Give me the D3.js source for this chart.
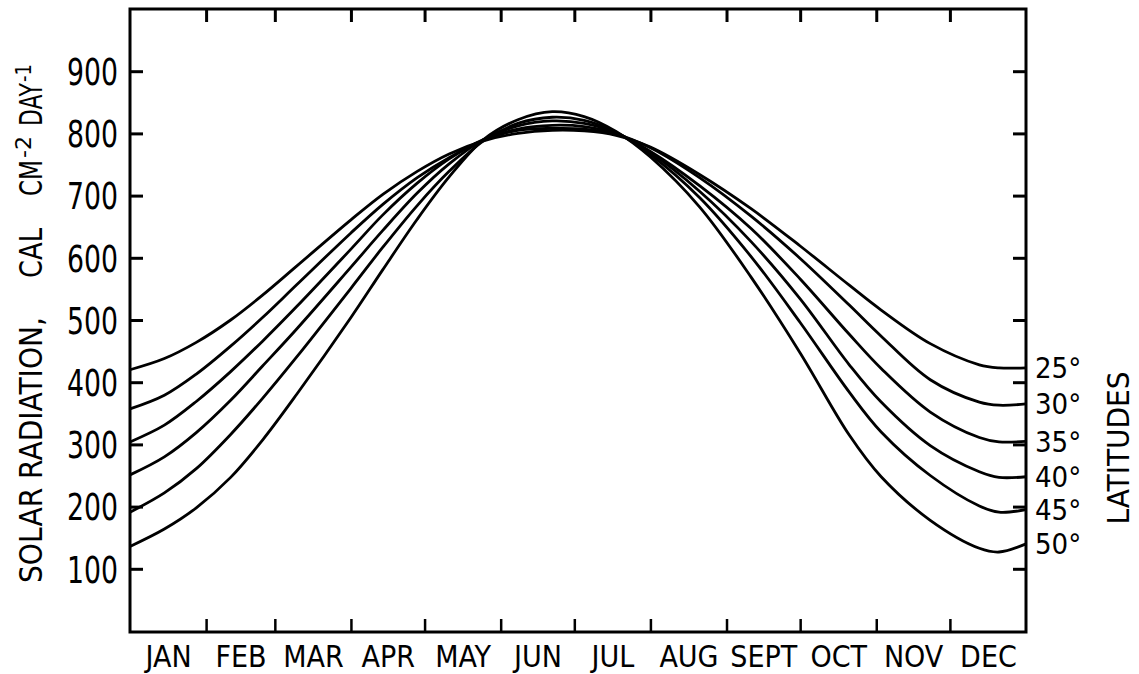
<!DOCTYPE html>
<html lang="en">

<head>
  <meta charset="UTF-8">
  <title>Solar radiation by latitude</title>
  <script src="https://d3js.org/d3.v7.min.js"></script>
  <style>
    body {
      margin: 0;
      background-color: #fff;
    }

    svg text {
      font-family: "Liberation Sans Narrow", "DejaVu Sans Condensed", "Roboto Condensed", sans-serif;
      font-stretch: condensed;
      fill: #000;
    }
  </style>
</head>

<body>
  <svg width="1139" height="674"></svg>
  <script>
    // data (cal cm-2 day-1), day of year on x
    const months = ["JAN", "FEB", "MAR", "APR", "MAY", "JUN", "JUL", "AUG", "SEPT", "OCT", "NOV", "DEC"];
    const monthDays = [31, 28, 31, 30, 31, 30, 31, 31, 30, 31, 30, 31];
    const yTicks = [100, 200, 300, 400, 500, 600, 700, 800, 900];
    const latitudes = ["25°", "30°", "35°", "40°", "45°", "50°"];

    const days = [0, 14, 27, 41, 54, 68, 90, 103, 117, 130, 144, 158, 172, 185, 198, 212, 232, 253, 273, 293, 306, 326, 346, 354, 365];
    const lat25 = [420, 438, 464, 500, 540, 587, 661, 702, 739, 767, 788, 800, 805, 804, 797, 778, 734, 679, 619, 556, 516, 462, 428, 423, 423];
    const lat30 = [357, 379, 413, 458, 504, 557, 640, 686, 729, 761, 789, 805, 808, 807, 799, 777, 729, 667, 599, 524, 474, 404, 368, 363, 365];
    const lat35 = [304, 331, 369, 417, 466, 522, 614, 669, 720, 759, 790, 807, 813, 811, 800, 771, 716, 647, 566, 477, 422, 352, 311, 304, 305];
    const lat40 = [251, 280, 319, 371, 426, 486, 585, 644, 704, 751, 790, 812, 820, 816, 801, 769, 707, 626, 534, 428, 368, 298, 256, 247, 248];
    const lat45 = [191, 222, 261, 316, 374, 441, 551, 617, 684, 739, 788, 816, 826, 821, 802, 766, 697, 602, 496, 384, 320, 250, 201, 191, 195];
    const lat50 = [136, 164, 198, 247, 307, 381, 504, 581, 662, 730, 790, 822, 835, 827, 803, 762, 682, 569, 447, 315, 248, 178, 133, 127, 140];
    const series = [lat25, lat30, lat35, lat40, lat45, lat50];

    const svg = d3.select("svg");
    const plotLeft = 130, plotRight = 1026, plotTop = 9, plotBottom = 632;

    const x = d3.scaleLinear().domain([0, 365]).range([plotLeft, plotRight]);
    const y = d3.scaleLinear().domain([0, 1000]).range([631, plotTop]);

    const monthStart = [0].concat(Array.from(d3.cumsum(monthDays)).slice(0, -1));
    const boundaries = monthStart.slice(1);
    const monthMid = monthStart.map((s, i) => s + monthDays[i] / 2);

    // axes: ticks point inward on all four sides
    svg.append("g")
      .attr("transform", `translate(${plotLeft},0)`)
      .call(d3.axisLeft(y).tickValues(yTicks).tickSizeInner(-13).tickSizeOuter(0).tickPadding(12))
      .call(g => g.select(".domain").remove())
      .call(g => g.selectAll("line").attr("stroke", "#000").attr("stroke-width", 3))
      .call(g => g.selectAll("text")
        .attr("font-size", 37)
        .attr("dy", "0.36em")
        .attr("textLength", 51)
        .attr("lengthAdjust", "spacingAndGlyphs"));

    svg.append("g")
      .attr("transform", `translate(${plotRight},0)`)
      .call(d3.axisRight(y).tickValues(yTicks).tickSizeInner(-13).tickSizeOuter(0).tickFormat(""))
      .call(g => g.select(".domain").remove())
      .call(g => g.selectAll("line").attr("stroke", "#000").attr("stroke-width", 3));

    svg.append("g")
      .attr("transform", `translate(0,${plotBottom})`)
      .call(d3.axisBottom(x).tickValues(boundaries).tickSizeInner(-13).tickSizeOuter(0).tickFormat(""))
      .call(g => g.select(".domain").remove())
      .call(g => g.selectAll("line").attr("stroke", "#000").attr("stroke-width", 2.5));

    svg.append("g")
      .attr("transform", `translate(0,${plotTop})`)
      .call(d3.axisTop(x).tickValues(boundaries).tickSizeInner(-13).tickSizeOuter(0).tickFormat(""))
      .call(g => g.select(".domain").remove())
      .call(g => g.selectAll("line").attr("stroke", "#000").attr("stroke-width", 3));

    svg.append("g")
      .attr("transform", `translate(0,${plotBottom})`)
      .call(d3.axisBottom(x).tickValues(monthMid).tickSize(0).tickPadding(14).tickFormat((d, i) => months[i]))
      .call(g => g.select(".domain").remove())
      .call(g => g.selectAll("text").attr("font-size", 30).attr("dy", "0.71em"));

    // frame
    svg.append("rect")
      .attr("x", plotLeft).attr("y", plotTop)
      .attr("width", plotRight - plotLeft).attr("height", plotBottom - plotTop)
      .attr("fill", "none").attr("stroke", "#000").attr("stroke-width", 3);

    // curves
    const line = d3.line()
      .x((d, i) => x(days[i]))
      .y(d => y(d))
      .curve(d3.curveCatmullRom.alpha(0.5));

    svg.append("g")
      .selectAll("path")
      .data(series)
      .join("path")
      .attr("d", line)
      .attr("fill", "none")
      .attr("stroke", "#000")
      .attr("stroke-width", 2.8)
      .attr("stroke-linejoin", "round");

    // latitude labels at the right end of each curve
    svg.append("g")
      .selectAll("text")
      .data(series)
      .join("text")
      .attr("x", plotRight + 9)
      .attr("y", d => y(d[d.length - 1]))
      .attr("dy", "0.36em")
      .attr("font-size", 29)
      .text((d, i) => latitudes[i]);

    svg.append("text")
      .attr("transform", "translate(1129,448) rotate(-90)")
      .attr("text-anchor", "middle")
      .attr("font-size", 31)
      .attr("textLength", 153)
      .attr("lengthAdjust", "spacingAndGlyphs")
      .text("LATITUDES");

    // y title, rotated; pieces spaced like the original lettering
    const yTitle = svg.append("g").attr("transform", "translate(42,0) rotate(-90)");
    const titleParts = [
      { text: "SOLAR  RADIATION,", at: 583, len: 266, size: 32, raise: 0 },
      { text: "CAL", at: 278, len: 50, size: 32, raise: 0 },
      { text: "CM", at: 196, len: 36, size: 32, raise: 0 },
      { text: "-2", at: 158, len: 22, size: 22, raise: 11 },
      { text: "DAY", at: 126, len: 43, size: 32, raise: 0 },
      { text: "-1", at: 82, len: 18, size: 22, raise: 11 }
    ];
    yTitle.selectAll("text")
      .data(titleParts)
      .join("text")
      .attr("x", d => -d.at)
      .attr("y", d => -d.raise)
      .attr("font-size", d => d.size)
      .attr("textLength", d => d.len)
      .attr("lengthAdjust", "spacingAndGlyphs")
      .text(d => d.text);
  </script>
</body>

</html>
